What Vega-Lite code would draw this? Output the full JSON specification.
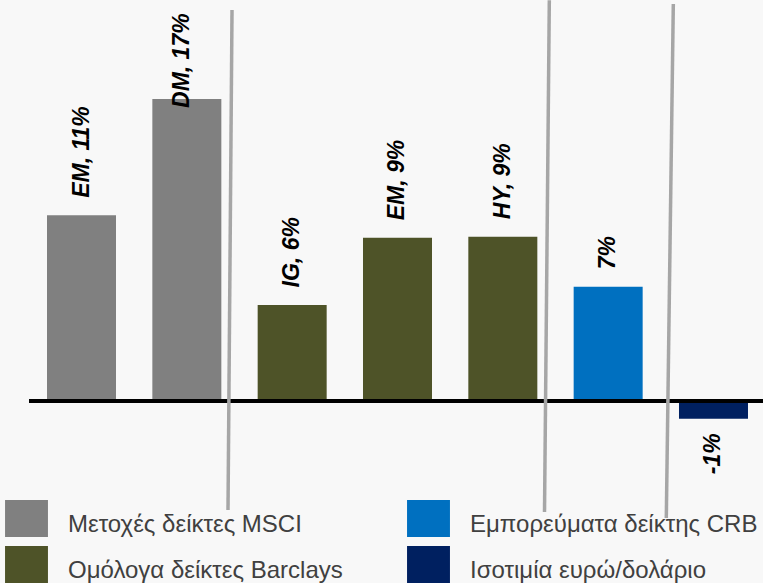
{
  "$schema": "https://vega.github.io/schema/vega-lite/v6.json",
  "width": 763,
  "height": 583,
  "padding": 0,
  "autosize": {"type": "none"},
  "background": "#f8f8f8",
  "config": {"view": {"stroke": null}},
  "datasets": {
    "bars": [
      {"pos": 1, "value": 10.61, "label": "EM, 11%", "group": "Μετοχές δείκτες MSCI"},
      {"pos": 2, "value": 17.26, "label": "DM, 17%", "group": "Μετοχές δείκτες MSCI"},
      {"pos": 3, "value": 5.49, "label": "IG, 6%", "group": "Ομόλογα δείκτες Barclays"},
      {"pos": 4, "value": 9.33, "label": "EM, 9%", "group": "Ομόλογα δείκτες Barclays"},
      {"pos": 5, "value": 9.39, "label": "HY, 9%", "group": "Ομόλογα δείκτες Barclays"},
      {"pos": 6, "value": 6.53, "label": "7%", "group": "Εμπορεύματα δείκτης CRB"},
      {"pos": 7, "value": -1.01, "label": "-1%", "group": "Ισοτιμία ευρώ/δολάριο"}
    ],
    "dividers": [
      {"xa": 2.4289, "xb": 2.3909, "ya": 22.34, "yb": -6.23},
      {"xa": 5.4413, "xb": 5.3957, "ya": 22.9, "yb": -6.34},
      {"xa": 6.6185, "xb": 6.552, "ya": 22.69, "yb": -6.69}
    ]
  },
  "layer": [
    {
      "data": {"name": "bars"},
      "mark": {"type": "bar", "width": 69},
      "encoding": {
        "x": {"field": "pos", "type": "quantitative", "axis": null,
              "scale": {"domain": [0.2262, 7.47], "nice": false, "zero": false, "padding": 0}},
        "y": {"field": "value", "type": "quantitative", "axis": null,
              "scale": {"domain": [-10.4, 22.914], "nice": false, "zero": false, "padding": 0}},
        "color": {
          "field": "group", "type": "nominal",
          "scale": {
            "domain": ["Μετοχές δείκτες MSCI", "Ομόλογα δείκτες Barclays", "Εμπορεύματα δείκτης CRB", "Ισοτιμία ευρώ/δολάριο"],
            "range": ["#808080", "#4e5328", "#0070c0", "#002060"]
          },
          "legend": {
            "title": null,
            "orient": "none",
            "legendX": 8,
            "legendY": 500,
            "columns": 2,
            "padding": 0,
            "symbolType": "M-1.16,-1H1.16V1H-1.16Z",
            "symbolSize": 1369,
            "symbolStrokeWidth": 0,
            "symbolOpacity": 1,
            "labelFont": "Liberation Sans",
            "labelFontSize": 24,
            "labelColor": "#404040",
            "labelOffset": 23,
            "labelBaseline": "alphabetic",
            "labelLimit": 600,
            "rowPadding": 9,
            "columnPadding": 64,
            "encode": {"labels": {"update": {"dy": {"value": 13}}}}
          }
        }
      }
    },
    {
      "data": {"values": [{}]},
      "mark": {"type": "rule", "color": "#000000", "strokeWidth": 4},
      "encoding": {
        "y": {"datum": 0},
        "x": {"datum": 0.5016},
        "x2": {"datum": 7.47}
      }
    },
    {
      "data": {"name": "dividers"},
      "mark": {"type": "rule", "color": "#a6a6a6", "strokeWidth": 3.5},
      "encoding": {
        "x": {"field": "xa", "type": "quantitative"},
        "x2": {"field": "xb"},
        "y": {"field": "ya", "type": "quantitative"},
        "y2": {"field": "yb"}
      }
    },
    {
      "data": {"name": "bars"},
      "transform": [{"filter": "datum.value > 0 && datum.pos != 2"}],
      "mark": {"type": "text", "angle": 270, "align": "left", "baseline": "middle", "dx": 17.5,
               "font": "Liberation Sans", "fontSize": 23, "fontWeight": "bold", "fontStyle": "italic", "color": "#000000"},
      "encoding": {
        "x": {"field": "pos", "type": "quantitative"},
        "y": {"field": "value", "type": "quantitative"},
        "text": {"field": "label"}
      }
    },
    {
      "data": {"name": "bars"},
      "transform": [{"filter": "datum.pos == 2"}],
      "mark": {"type": "text", "angle": 270, "align": "left", "baseline": "middle", "dx": -9, "dy": -5,
               "font": "Liberation Sans", "fontSize": 23, "fontWeight": "bold", "fontStyle": "italic", "color": "#000000"},
      "encoding": {
        "x": {"field": "pos", "type": "quantitative"},
        "y": {"field": "value", "type": "quantitative"},
        "text": {"field": "label"}
      }
    },
    {
      "data": {"name": "bars"},
      "transform": [{"filter": "datum.value < 0"}],
      "mark": {"type": "text", "angle": 270, "align": "right", "baseline": "middle", "dx": -14.6,
               "font": "Liberation Sans", "fontSize": 23, "fontWeight": "bold", "fontStyle": "italic", "color": "#000000"},
      "encoding": {
        "x": {"field": "pos", "type": "quantitative"},
        "y": {"field": "value", "type": "quantitative"},
        "text": {"field": "label"}
      }
    }
  ]
}
